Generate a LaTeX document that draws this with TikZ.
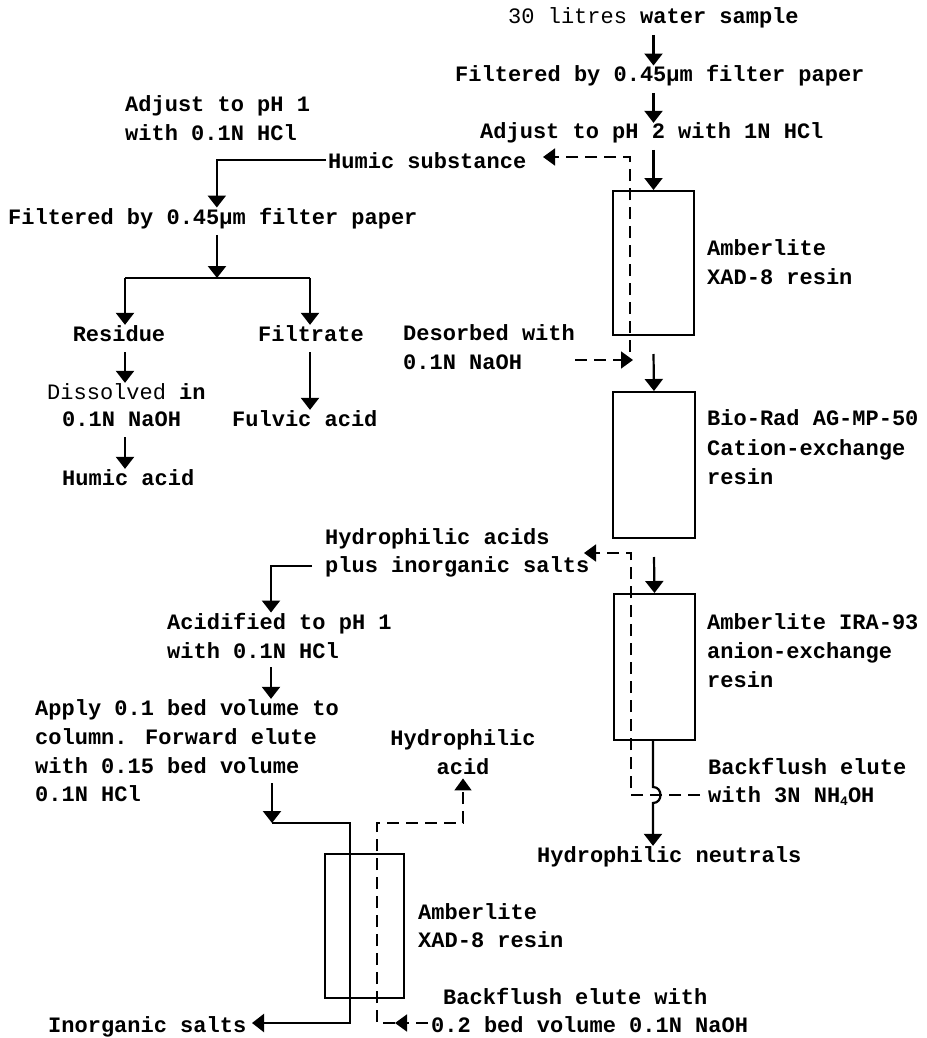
\documentclass[tikz,border=0pt]{standalone}
\usepackage{fontspec}
\newfontfamily\cour{Liberation Mono}
\usetikzlibrary{arrows.meta}
\tikzset{
  txt/.style={font=\cour\bfseries\fontsize{22}{29}\selectfont, inner sep=0pt, anchor=base west},
  txtc/.style={txt, anchor=base},
  ln/.style={line width=2.2pt},
  flow/.style={ln, -{Triangle[width=18pt,length=12pt]}},
  dln/.style={line width=1.7pt, dash pattern=on 12pt off 7pt},
  dflow/.style={dln, -{Triangle[width=17pt,length=12pt]}},
  column/.style={draw, line width=2pt, inner sep=0pt, anchor=north west}
}
\begin{document}
\begin{tikzpicture}[x=1pt,y=-1pt]
\useasboundingbox (0,0) rectangle (926,1038);
% ---- texts, main column
\node[txt] (s1) at (508,24) {{\mdseries 30 litres} water sample};
\node[txt] (s2) at (455,82) {Filtered by 0.45µm filter paper};
\node[txt] (s3) at (480,139) {Adjust to pH 2 with 1N HCl};
\node[txt] (hs) at (328,168) {Humic substance};
% ---- left branch
\node[txt] (a1a) at (125,112) {Adjust to pH 1};
\node[txt] (a1b) at (125,140) {with 0.1N HCl};
\node[txt] (f2) at (8,224) {Filtered by 0.45µm filter paper};
\node[txtc] (res) at (119,341) {Residue};
\node[txtc] (fil) at (311,341) {Filtrate};
\node[txt] (dis1) at (47,399) {{\mdseries Dissolved} in};
\node[txt] (dis2) at (62,426) {0.1N NaOH};
\node[txt] (ha) at (62,485) {Humic acid};
\node[txt] (fa) at (232,426) {Fulvic acid};
% ---- columns
\node[column, minimum width=81pt, minimum height=144pt] (c1) at (612,190) {};
\node[column, minimum width=82pt, minimum height=146pt] (c2) at (612,391) {};
\node[column, minimum width=81pt, minimum height=146pt] (c3) at (613,593) {};
\node[column, minimum width=79pt, minimum height=144pt] (c4) at (324,853) {};
% ---- column labels
\node[txt] (l1a) at (707,255) {Amberlite};
\node[txt] (l1b) at (707,284) {XAD-8 resin};
\node[txt] (l2a) at (707,425) {Bio-Rad AG-MP-50};
\node[txt] (l2b) at (707,455) {Cation-exchange};
\node[txt] (l2c) at (707,484) {resin};
\node[txt] (l3a) at (707,629) {Amberlite IRA-93};
\node[txt] (l3b) at (707,658) {anion-exchange};
\node[txt] (l3c) at (707,687) {resin};
\node[txt] (l4a) at (418,919) {Amberlite};
\node[txt] (l4b) at (418,947) {XAD-8 resin};
% ---- other texts
\node[txt] (dz1) at (403,340) {Desorbed with};
\node[txt] (dz2) at (403,369) {0.1N NaOH};
\node[txt] (hy1) at (325,544) {Hydrophilic acids};
\node[txt] (hy2) at (325,572) {plus inorganic salts};
\node[txt] (acd1) at (167,629) {Acidified to pH 1};
\node[txt] (acd2) at (167,658) {with 0.1N HCl};
\node[txt] (ap1) at (35,715) {Apply 0.1 bed volume to};
\node[txt] (ap2) at (35,744) {column. Forward elute};
\node[txt] (ap3) at (35,773) {with 0.15 bed volume};
\node[txt] (ap4) at (35,801) {0.1N HCl};
\node[txtc] (hac1) at (463,745) {Hydrophilic};
\node[txtc] (hac2) at (463,774) {acid};
\node[txt] (bk1) at (708,774) {Backflush elute};
\node[txt] (bk2) at (708,802) {with 3N NH\raisebox{-3pt}{\fontsize{13}{13}\selectfont 4}OH};
\node[txt] (neu) at (537,862) {Hydrophilic neutrals};
\node[txt] (bb1) at (443,1004) {Backflush elute with};
\node[txt] (bb2) at (431,1032) {0.2 bed volume 0.1N NaOH};
\node[txt] (ino) at (48,1032) {Inorganic salts};
% ---- main column connectors
\draw[flow] ([yshift=-6pt]s1.south -| c1.north) -- (s2.north -| c1.north);
\draw[flow] ([yshift=-6pt]s2.south -| c1.north) -- (s3.north -| c1.north);
\draw[flow] ([yshift=-6pt]s3.south -| c1.north) -- (c1.north);
\draw[flow] ([yshift=-18pt]c1.south) -- (c2.north);
\draw[flow] ([yshift=-18pt]c2.south) -- (c3.north);
\coordinate (hopT) at (653,787);
\coordinate (hopB) at (653,803);
\draw[flow] (c3.south -| hopT) -- (hopT) .. controls (663,787) and (663,803) .. (hopB) -- (neu.north -| hopB);
% ---- dashed: XAD-8 backflush
\coordinate (x1) at (630,352);
\coordinate (x2) at (630,157);
\coordinate (x3) at (543,157);
\draw[dflow] (x1) -- (x2) -- (x3);
\coordinate (ds1) at (575,360);
\coordinate (ds2) at (633,360);
\draw[dflow] (ds1) -- (ds2);
% ---- dashed: anion exchange backflush
\coordinate (bf0) at (584,553);
\coordinate (bf1) at (631,553);
\coordinate (bf2) at (631,795);
\coordinate (bf3) at (700,795);
\draw[dflow] (bf3) -- (bf2) -- (bf1) -- (bf0);
% ---- humic branch
\draw[flow] ([xshift=-2pt]hs.west) -| ([xshift=4pt]f2.north);
\coordinate (bM) at (217,278);
\coordinate (bL) at (125,278);
\coordinate (bR) at (310,278);
\draw[flow] ([yshift=-6pt]f2.south -| bM) -- (bM);
\draw[ln] (bL) -- (bR);
\draw[flow] (bL) -- (res.north -| bL);
\draw[flow] (bR) -- (fil.north -| bR);
\draw[flow] ([yshift=-11pt]res.south -| bL) -- (dis1.north -| bL);
\draw[flow] ([yshift=-11pt]dis2.south -| bL) -- (ha.north -| bL);
\draw[flow] ([yshift=-11pt]fil.south -| bR) -- (fa.north -| bR);
% ---- hydrophilic acids branch
\coordinate (hx) at (271,565);
\draw[flow] ([xshift=-13pt]hy2.west) -| (acd1.north -| hx);
\draw[flow] ([yshift=-9pt]acd2.south -| hx) -- (ap1.north -| hx);
\coordinate (q0) at (272,783);
\coordinate (q1) at (272,823);
\coordinate (q2) at (350,823);
\coordinate (q3) at (350,1023);
\coordinate (q4) at (252,1023);
\draw[flow] (q0) -- (q1);
\draw[flow] (q1) -- (q2) -- (q3) -- (q4);
\coordinate (r0) at (428,1023);
\coordinate (r1) at (395,1023);
\coordinate (r2) at (377,1023);
\coordinate (r3) at (377,823);
\coordinate (r4) at (463,823);
\draw[dflow] (r0) -- (r1);
\draw[dflow] (r1) -- (r2) -- (r3) -- (r4) -- ([yshift=-4pt]hac2.south);
\end{tikzpicture}
\end{document}
